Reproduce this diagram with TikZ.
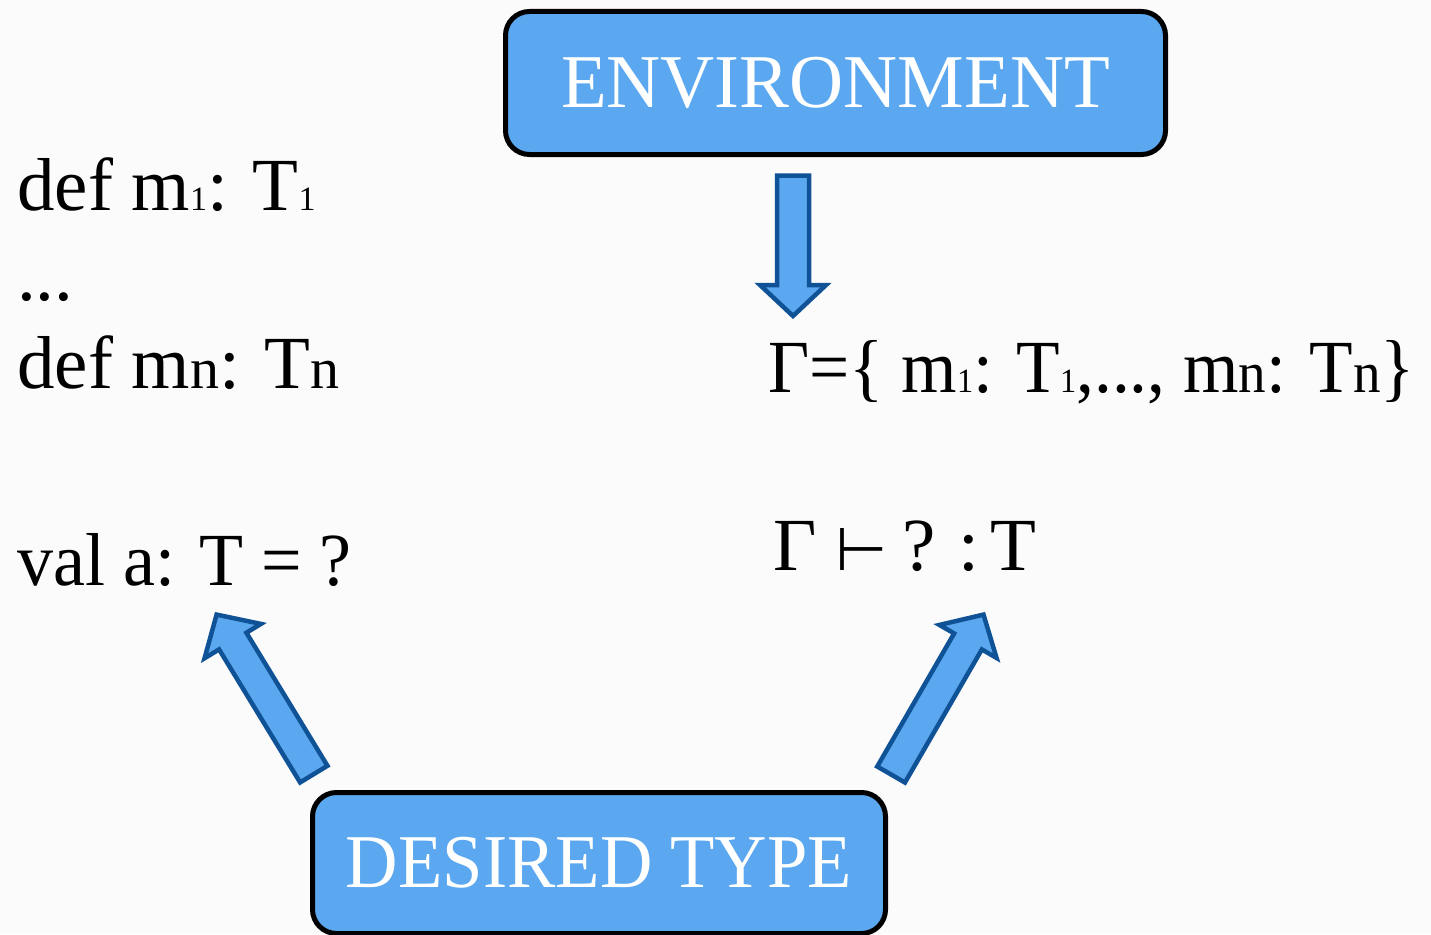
\documentclass[tikz,border=0pt]{standalone}
\usepackage{graphicx}
\usepackage{fontspec}
\setmainfont{Liberation Serif}
\newfontfamily\symf{DejaVu Sans}
\usetikzlibrary{calc}
\definecolor{boxblue}{RGB}{91,168,240}
\definecolor{arrowedge}{RGB}{16,82,150}
\definecolor{bgcol}{RGB}{251,251,251}
\newcommand{\sone}{{\fontsize{34}{34}\selectfont 1}}
\newcommand{\sn}{{\fontsize{58}{58}\selectfont n}}
\newcommand{\blockarr}[3]{%
  \coordinate (#3b) at ($(#2)!31pt!(#1)$);
  \draw[blockarrow] ($(#1)!16pt!90:(#2)$) -- ($(#3b)!16pt!90:(#2)$) -- ($(#3b)!33pt!90:(#2)$) -- (#2)
    -- ($(#3b)!33pt!-90:(#2)$) -- ($(#3b)!16pt!-90:(#2)$) -- ($(#1)!16pt!-90:(#2)$) -- cycle;}
\begin{document}
\begin{tikzpicture}[x=1pt,y=-1pt,
  txt/.style={inner sep=0pt, anchor=base west, font=\fontsize{75}{80}\selectfont},
  bluebox/.style={draw=black, line width=5pt, fill=boxblue, rounded corners=24pt, text=white,
    font=\fontsize{76}{80}\selectfont, inner sep=0pt},
  blockarrow/.style={draw=arrowedge, line width=4.5pt, fill=boxblue, line join=miter}]
\fill[bgcol] (0,0) rectangle (1431,934);
\useasboundingbox (0,0) rectangle (1431,934);
% boxes
\node[bluebox, minimum width=660, minimum height=143] (env) at (835.5,83) {\scalebox{0.985}[1]{ENVIRONMENT}};
\node[bluebox, minimum width=573, minimum height=141] (des) at (599,863) {\scalebox{0.955}[1]{DESIRED TYPE}};
% left texts
\node[txt] (d1) at (17,210) {def m\sone: T\sone};
\node[txt] (dots) at (17,300) {...};
\node[txt] (dn) at (17,388) {def m\sn: T\sn};
\node[txt] (val) at (17,585) {\scalebox{0.96}[1]{val a: T = ?}};
% right texts
\node[txt] (gam) at (768,392) {\scalebox{0.95}[1]{Γ=\{ m\sone: T\sone,..., m\sn: T\sn\}}};
\node[txt] (judg) at (773,570) {Γ {\symf\fontsize{60}{60}\selectfont ⊢} \kern-4pt? \kern-2pt: \kern-14pt T};
% arrows
\coordinate (a1t) at (793,175.5);
\coordinate (a1p) at (793,316);
\coordinate (a2t) at (313.8,774.1);
\coordinate (a2p) at (216.6,614.6);
\coordinate (a3t) at (891.1,774.5);
\coordinate (a3p) at (983.5,614.6);
\blockarr{a1t}{a1p}{a1}
\blockarr{a2t}{a2p}{a2}
\blockarr{a3t}{a3p}{a3}
\end{tikzpicture}
\end{document}
